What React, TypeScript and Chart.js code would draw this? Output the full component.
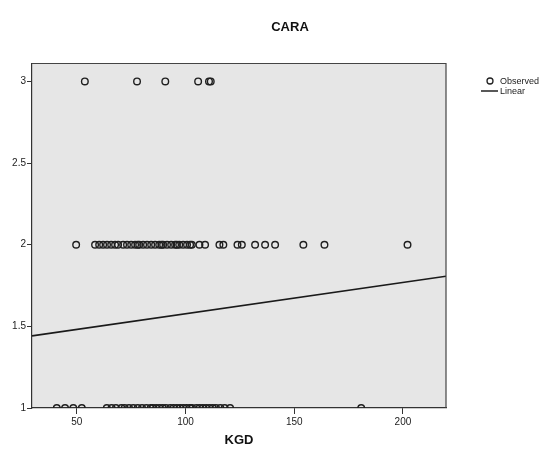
import { useEffect, useRef } from "react";
import { Chart, registerables } from "chart.js";

Chart.register(...registerables);

const TITLE = "CARA";
const X_TITLE = "KGD";
const LEGEND_OBSERVED = "Observed";
const LEGEND_LINEAR = "Linear";

const X_TICKS = [50, 100, 150, 200];
const Y_TICKS = [1, 1.5, 2, 2.5, 3];
const X_MIN = 29.4;
const X_MAX = 219.8;
const Y_MIN = 1;
const Y_MAX = 3.11;

// KGD values of observations, grouped by CARA value
const CARA3_KGD = [53.7, 77.7, 90.7, 105.8, 110.8, 111.6];
const CARA2_KGD = [
  49.7, 58.4, 60.3, 62.1, 63.9, 65.8, 67.6, 69.0, 71.3, 73.1, 75.0, 76.8, 78.0,
  78.7, 80.5, 82.3, 84.2, 86.0, 87.9, 89.0, 89.7, 91.5, 93.4, 95.2, 96.0, 97.1,
  98.9, 100.7, 102.1, 102.9, 106.4, 109.0, 115.6, 117.4, 123.9, 125.9, 132.0,
  136.6, 141.2, 154.2, 163.9, 202.1,
];
const CARA1_KGD = [
  40.8, 44.6, 48.4, 52.3, 63.8, 66.0, 68.0, 70.5, 72.0, 74.0, 76.0, 78.0, 80.0,
  82.0, 84.0, 85.0, 86.5, 88.0, 89.5, 91.0, 93.0, 94.5, 96.0, 97.5, 99.0, 100.5,
  102.0, 103.0, 105.0, 106.5, 108.0, 109.5, 111.0, 112.5, 114.0, 116.0, 118.0,
  120.5, 180.8,
];

// Linear fit line end points
const LINEAR_KGD = [29.4, 219.8];
const LINEAR_CARA = [1.442, 1.807];

const FONT = "'Liberation Sans', Arial, Helvetica, sans-serif";

const decorPlugin = {
  id: "decor",
  beforeDraw(chart: any) {
    const { ctx, chartArea } = chart;
    const { left, top, right, bottom } = chartArea;
    ctx.save();
    ctx.fillStyle = "#e6e6e6";
    ctx.fillRect(left, top, right - left, bottom - top);
    ctx.restore();
  },
  afterDraw(chart: any) {
    const { ctx, chartArea } = chart;
    const { left, top, right, bottom } = chartArea;
    ctx.save();
    ctx.strokeStyle = "#444";
    ctx.lineWidth = 1.2;
    ctx.beginPath();
    ctx.moveTo(left, top);
    ctx.lineTo(right, top);
    ctx.lineTo(right, bottom);
    ctx.stroke();

    // Title
    ctx.fillStyle = "#111";
    ctx.font = `bold 13px ${FONT}`;
    ctx.textAlign = "center";
    ctx.textBaseline = "middle";
    ctx.fillText(TITLE, 290, 27);

    // Legend
    const lx = 490;
    ctx.font = `9px ${FONT}`;
    ctx.textAlign = "left";
    ctx.fillStyle = "#222";
    ctx.strokeStyle = "#222";
    ctx.lineWidth = 1.3;
    ctx.beginPath();
    ctx.arc(lx, 81, 3, 0, Math.PI * 2);
    ctx.stroke();
    ctx.fillText(LEGEND_OBSERVED, lx + 10, 82);
    ctx.lineWidth = 1.5;
    ctx.beginPath();
    ctx.moveTo(lx - 9, 91);
    ctx.lineTo(lx + 8, 91);
    ctx.stroke();
    ctx.fillText(LEGEND_LINEAR, lx + 10, 92);
    ctx.restore();
  },
};

export default function App() {
  const canvasRef = useRef<HTMLCanvasElement | null>(null);

  useEffect(() => {
    document.body.style.margin = "0";
    const canvas = canvasRef.current;
    if (!canvas) return;

    const observed = [
      ...CARA3_KGD.map((x) => ({ x, y: 3 })),
      ...CARA2_KGD.map((x) => ({ x, y: 2 })),
      ...CARA1_KGD.map((x) => ({ x, y: 1 })),
    ];
    const linear = LINEAR_KGD.map((x, i) => ({ x, y: LINEAR_CARA[i] }));

    const chart = new Chart(canvas, {
      type: "scatter",
      data: {
        datasets: [
          {
            label: LEGEND_LINEAR,
            data: linear,
            showLine: true,
            borderColor: "#1a1a1a",
            borderWidth: 1.6,
            pointRadius: 0,
            clip: 0,
          } as any,
          {
            label: LEGEND_OBSERVED,
            data: observed,
            pointStyle: "circle",
            pointRadius: 3.3,
            pointBorderWidth: 1.4,
            pointBorderColor: "#1f1f1f",
            pointBackgroundColor: "rgba(0,0,0,0)",
            borderColor: "#1f1f1f",
            backgroundColor: "rgba(0,0,0,0)",
            clip: 0,
          } as any,
        ],
      },
      options: {
        responsive: false,
        animation: false,
        events: [],
        layout: { padding: { top: 63.5, right: 101, left: 0, bottom: 0 } },
        plugins: {
          legend: { display: false },
          title: { display: false },
          tooltip: { enabled: false },
        },
        scales: {
          x: {
            type: "linear",
            min: X_MIN,
            max: X_MAX,
            afterBuildTicks: (s: any) => {
              s.ticks = X_TICKS.map((v) => ({ value: v }));
            },
            afterFit: (s: any) => {
              s.height = 41;
            },
            ticks: {
              autoSkip: false,
              maxRotation: 0,
              padding: 2,
              color: "#222",
              font: { family: FONT, size: 10 },
              callback: (v: any) => String(v),
            },
            grid: {
              drawOnChartArea: false,
              drawTicks: true,
              tickLength: 6,
              color: "#333",
            },
            border: { display: true, color: "#333", width: 1.2 },
            title: {
              display: true,
              text: X_TITLE,
              color: "#111",
              font: { family: FONT, size: 13, weight: "bold" },
              padding: { top: 0, bottom: 1 },
            },
          },
          y: {
            type: "linear",
            min: Y_MIN,
            max: Y_MAX,
            afterBuildTicks: (s: any) => {
              s.ticks = Y_TICKS.map((v) => ({ value: v }));
            },
            afterFit: (s: any) => {
              s.width = 32;
            },
            ticks: {
              autoSkip: false,
              padding: 1,
              color: "#222",
              font: { family: FONT, size: 10 },
              callback: (v: any) => String(v),
            },
            grid: {
              drawOnChartArea: false,
              drawTicks: true,
              tickLength: 5,
              color: "#333",
            },
            border: { display: true, color: "#333", width: 1.2 },
          },
        },
      },
      plugins: [decorPlugin],
    });

    return () => chart.destroy();
  }, []);

  return (
    <div style={{ position: "absolute", left: 0, top: 0, width: 547, height: 449 }}>
      <canvas ref={canvasRef} width={547} height={449} />
    </div>
  );
}
